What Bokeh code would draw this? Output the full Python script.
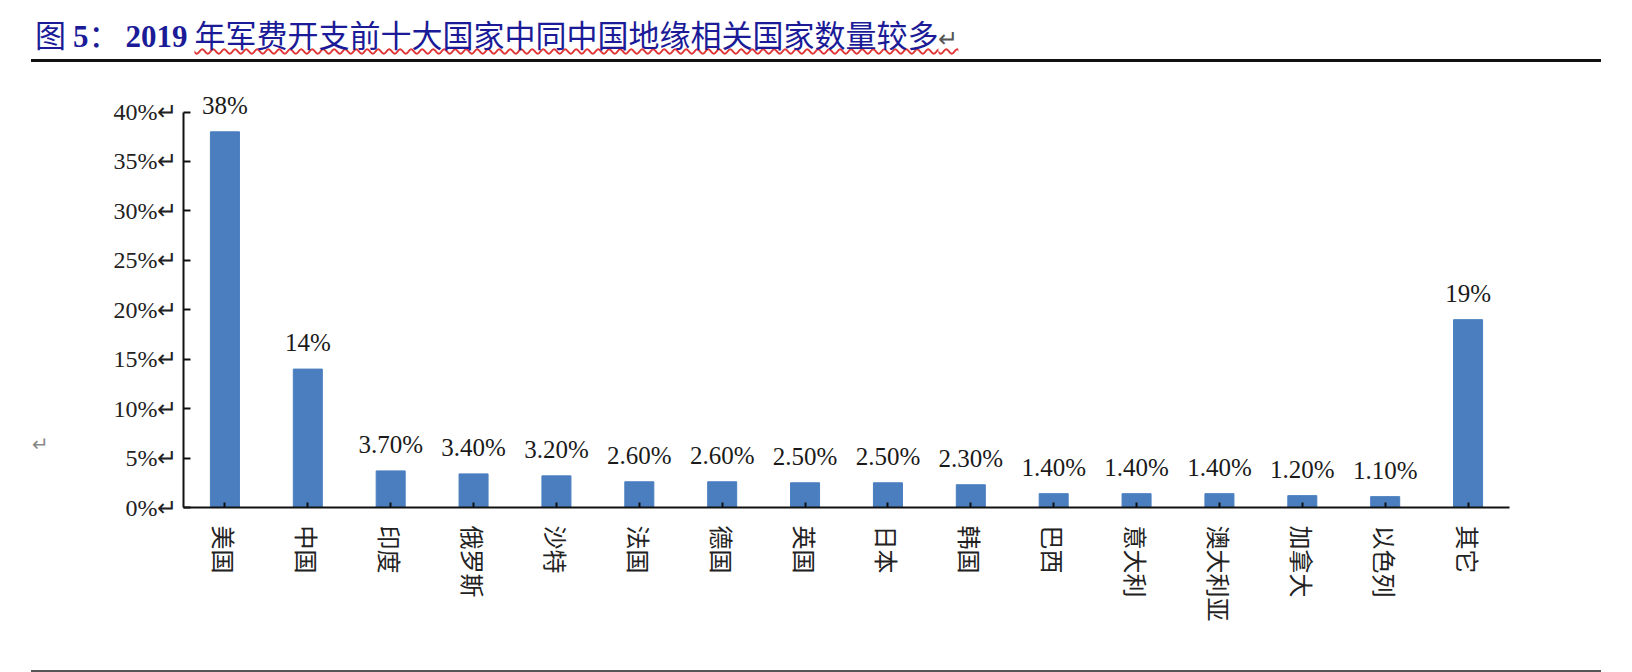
from bokeh.plotting import figure
from bokeh.models import (ColumnDataSource, FactorRange, Range1d, FixedTicker, LabelSet, Div)
from bokeh.layouts import column
from bokeh.embed import file_html
from bokeh.resources import INLINE

# ---- data ----
countries = ["美国", "中国", "印度", "俄罗斯", "沙特", "法国", "德国", "英国", "日本", "韩国",
             "巴西", "意大利", "澳大利亚", "加拿大", "以色列", "其它"]
shares = [38, 14, 3.7, 3.4, 3.2, 2.6, 2.6, 2.5, 2.5, 2.3, 1.4, 1.4, 1.4, 1.2, 1.1, 19]
share_labels = ["38%", "14%", "3.70%", "3.40%", "3.20%", "2.60%", "2.60%", "2.50%", "2.50%",
                "2.30%", "1.40%", "1.40%", "1.40%", "1.20%", "1.10%", "19%"]
y_ticks = [0, 5, 10, 15, 20, 25, 30, 35, 40]
y_tick_labels = ["0%↵", "5%↵", "10%↵", "15%↵", "20%↵", "25%↵", "30%↵", "35%↵", "40%↵"]
fig_no = "图"
fig_num = "5"
fig_year = "2019"
fig_title = "年军费开支前十大国家中同中国地缘相关国家数量较多"
y_title = "↵"

W = 1632
navy = "#1b1b98"

title_html = (
    '<div style="position:relative;width:%dpx;height:64px;">'
    '<div style="position:absolute;left:35px;top:19px;font-family:\'Noto Sans CJK SC\';'
    'font-size:31px;line-height:30px;color:%s;white-space:nowrap;">'
    '%s <span style="font-family:\'Liberation Serif\';font-weight:bold;">%s</span>：'
    '<span style="font-family:\'Liberation Serif\';font-weight:bold;margin-left:6px;">%s</span> '
    '<span style="text-decoration:underline wavy #e03535;text-decoration-thickness:2px;'
    'text-underline-offset:1px;">%s<span style="color:#555;font-size:24px;">↵</span></span></div>'
    '<div style="position:absolute;left:31px;top:59px;width:1570px;height:2.5px;background:#111;"></div>'
    '<div style="position:absolute;left:32px;top:430px;font-family:\'DejaVu Sans\';font-size:20px;'
    'color:#888;">%s</div>'
    '</div>' % (W, navy, fig_no, fig_num, fig_year, fig_title, y_title)
)
title_div = Div(text=title_html, width=W, height=64, margin=0)

bottom_div = Div(text='<div style="position:relative;width:%dpx;height:8px;">'
                      '<div style="position:absolute;left:31px;top:2px;width:1570px;height:3px;'
                      'background:#555;"></div></div>' % W, width=W, height=8, margin=0)

p = figure(width=W, height=600, output_backend="svg", toolbar_location=None,
           x_range=FactorRange(*countries, range_padding=0),
           y_range=Range1d(0, 44),
           min_border_left=183, min_border_right=123, min_border_top=8,
           min_border_bottom=157, margin=0)
p.outline_line_color = None
p.grid.grid_line_color = None
p.background_fill_color = "white"
p.border_fill_color = None

src = ColumnDataSource(dict(x=countries, y=shares, t=share_labels))
p.vbar(x="x", top="y", width=0.35, source=src, fill_color="#4a7ebf", line_color="#4a7ebf")

p.add_layout(LabelSet(x="x", y="y", text="t", source=src, y_offset=18,
                      text_align="center", text_baseline="alphabetic",
                      text_font="Liberation Serif", text_font_size="25px",
                      text_color="#1a1a1a"))

# axes
ya = p.yaxis[0]
ya.bounds = (0, 40)
ya.ticker = FixedTicker(ticks=y_ticks)
ya.major_label_overrides = {t: l for t, l in zip(y_ticks, y_tick_labels)}
ya.axis_line_color = "#111"
ya.axis_line_width = 2
ya.major_tick_in = 7
ya.major_tick_out = 0
ya.major_tick_line_width = 2
ya.major_tick_line_color = "#111"
ya.minor_tick_line_color = None
ya.major_label_standoff = 6
ya.major_label_text_font = "Liberation Serif"
ya.major_label_text_font_size = "24px"
ya.major_label_text_color = "#222"

xa = p.xaxis[0]
xa.axis_line_color = "#111"
xa.axis_line_width = 2
xa.major_tick_in = 5
xa.major_tick_out = 0
xa.major_tick_line_width = 2
xa.major_tick_line_color = "#111"
xa.major_label_orientation = "vertical"
xa.major_label_standoff = 18
xa.major_label_text_font = "Noto Sans CJK SC"
xa.major_label_text_font_size = "24px"
xa.major_label_text_color = "#222"

layout = column(title_div, p, bottom_div, spacing=0)
open("out.html", "w").write(file_html(layout, INLINE))
